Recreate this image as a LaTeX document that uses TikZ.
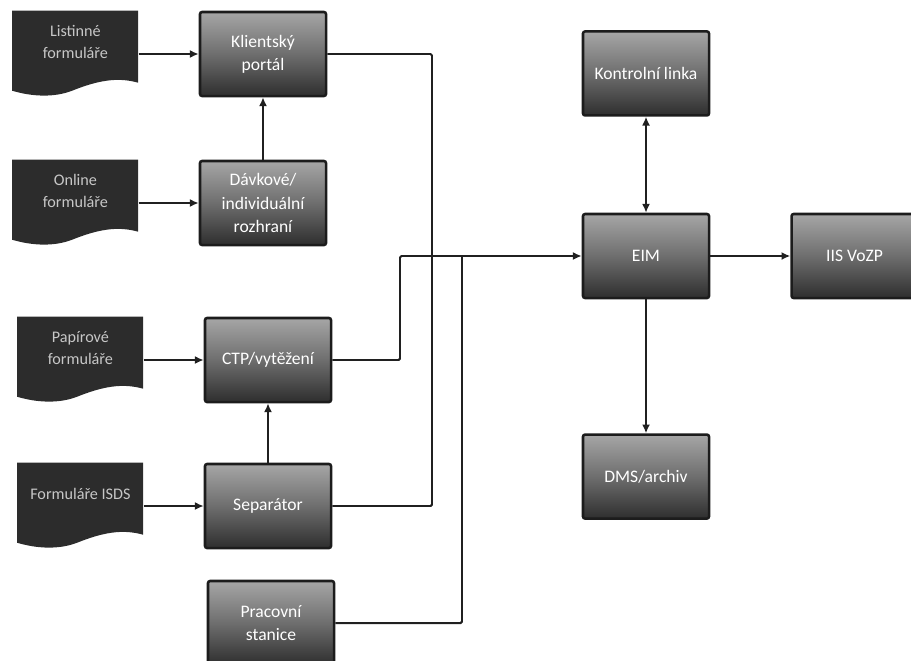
\documentclass[tikz,border=0pt]{standalone}
\usepackage{fontspec}
\setmainfont{Carlito}
\usetikzlibrary{arrows.meta,positioning,backgrounds}
\definecolor{DocDark}{HTML}{2C2C2C}
\definecolor{BoxTop}{HTML}{A6A6A6}
\definecolor{BoxMid}{HTML}{6E6E6E}
\definecolor{BoxBottom}{HTML}{2E2E2E}
\definecolor{BoxEdge}{HTML}{1C1C1C}
\definecolor{FlowLine}{HTML}{202020}

\begin{document}
\begin{tikzpicture}[
    x=0.025cm, y=-0.025cm,
    every node/.style={
      align=center,
      font=\fontsize{11.5}{16}\selectfont
    },
    docbox/.style={
      minimum width=3.15cm, minimum height=2.15cm, inner sep=0pt,
      text=black!22, text depth=0.6cm
    },
    procbox/.style={
      draw=BoxEdge, line width=1.8pt, rounded corners=1.5pt,
      top color=BoxTop, bottom color=BoxBottom, middle color=BoxMid,
      minimum width=3.15cm, minimum height=2.1cm, text=white,
      font=\fontsize{12.5}{16.5}\selectfont
    },
    flow/.style={draw=FlowLine, line width=1.4pt, rounded corners=1pt},
    arrow/.style={flow, -{Latex[length=2.2mm,width=2mm]}}
  ]
    \useasboundingbox (0,0) rectangle (911,660);

    % processing column
    \node[procbox] (portal) at (263,54) {Klientský\\portál};
    \node[procbox] (batch) at (263,203) {Dávkové/\\individuální\\rozhraní};
    \node[procbox] (ctp) at (268,360) {CTP/vytěžení};
    \node[procbox] (sep) at (268,506) {Separátor};
    \node[procbox] (station) at (271,623) {Pracovní\\stanice};

    % input documents
    \node[docbox,left=1.5cm of portal] (paperlist) {Listinné\\formuláře};
    \node[docbox,left=1.5cm of batch] (online) {Online\\formuláře};
    \node[docbox,left=1.5cm of ctp] (paper) {Papírové\\formuláře};
    \node[docbox,left=1.5cm of sep] (isds) {Formuláře ISDS};

    % wavy document outlines
    \begin{scope}[on background layer]
      \foreach \doc in {paperlist,online,paper,isds}{
        \begin{scope}[shift={(\doc.north west)}]
          \fill[DocDark] (0,0) -- (126,0) -- (126,72)
            .. controls (105,66) and (85,70) .. (60,80)
            .. controls (42,87) and (20,86) .. (0,80) -- cycle;
        \end{scope}
      }
    \end{scope}

    % central part
    \node[procbox] (eim) at (646,256) {EIM};
    \node[procbox,above=2.4cm of eim] (control) {Kontrolní linka};
    \node[procbox,right=2cm of eim] (iis) {IIS VoZP};
    \node[procbox,below=3.35cm of eim] (dms) {DMS/archiv};

    \coordinate (busctp) at (400,256);
    \coordinate (bussep) at (432,256);
    \coordinate (busstation) at (462,256);

    \draw[arrow] (paperlist) -- (portal);
    \draw[arrow] (online) -- (batch);
    \draw[arrow] (paper) -- (ctp);
    \draw[arrow] (isds) -- (sep);
    \draw[arrow] (batch) -- (portal);
    \draw[arrow] (sep) -- (ctp);

    \draw[arrow] (ctp.east) -| (busctp) -- (eim.west);
    \draw[flow] (portal.east) -| (bussep);
    \draw[flow] (sep.east) -| (bussep);
    \draw[flow] (station.east) -| (busstation);

    \draw[flow,{Latex[length=2.2mm,width=2mm]}-{Latex[length=2.2mm,width=2mm]}]
      (control) -- (eim);
    \draw[arrow] (eim) -- (iis);
    \draw[arrow] (eim) -- (dms);
  \end{tikzpicture}
\end{document}
